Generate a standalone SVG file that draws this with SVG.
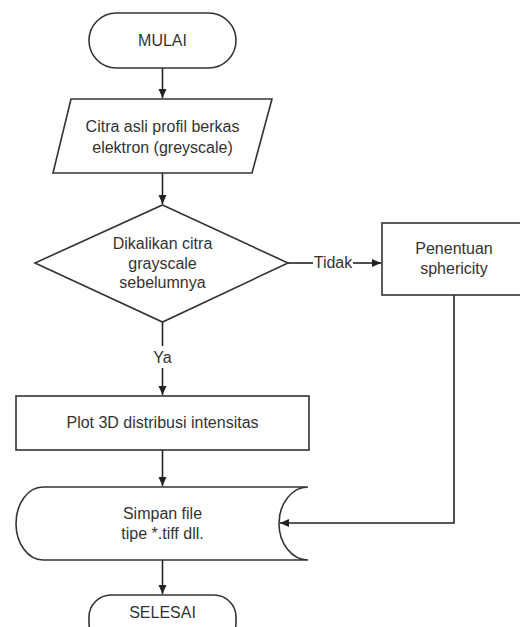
<svg xmlns="http://www.w3.org/2000/svg" width="520" height="627" viewBox="0 0 520 627">
<style>
.s{fill:#fff;stroke:#333;stroke-width:1.6}
.t{font-family:"Liberation Sans",Arial,sans-serif;font-size:16px;fill:#333;text-anchor:middle}
.c{fill:none;stroke:#222;stroke-width:1.6}
</style>
<defs>
<marker id="a" markerWidth="10" markerHeight="10" refX="9" refY="5" orient="auto" markerUnits="userSpaceOnUse">
<path d="M0,1 L9,5 L0,9 Z" fill="#222"/>
</marker>
</defs>
<rect width="520" height="627" fill="#fff"/>
<g id="connectors">
<path class="c" d="M162.5,68 V98" marker-end="url(#a)"/>
<path class="c" d="M162.5,173 V204" marker-end="url(#a)"/>
<path class="c" d="M288,263 H313"/>
<path class="c" d="M353,263 H381" marker-end="url(#a)"/>
<text class="t" x="333" y="268">Tidak</text>
<path class="c" d="M162.5,322 V346"/>
<text class="t" x="162.5" y="363">Ya</text>
<path class="c" d="M162.5,368 V395" marker-end="url(#a)"/>
<path class="c" d="M162.5,450 V486" marker-end="url(#a)"/>
<path class="c" d="M454,295 V523 H280" marker-end="url(#a)"/>
<path class="c" d="M162.5,560 V594" marker-end="url(#a)"/>
</g>
<g id="mulai">
<rect class="s" x="89" y="13" width="147" height="55" rx="27.5"/>
<text class="t" x="162.5" y="46">MULAI</text>
</g>
<g id="citra">
<polygon class="s" points="71,99 272,99 252,173 53,173"/>
<text class="t" x="162.5" y="132">Citra asli profil berkas</text>
<text class="t" x="162.5" y="153">elektron (greyscale)</text>
</g>
<g id="decision">
<polygon class="s" points="162.5,205 288,263 162.5,322 35,263"/>
<text class="t" x="162.5" y="249">Dikalikan citra</text>
<text class="t" x="162.5" y="269">grayscale</text>
<text class="t" x="162.5" y="288">sebelumnya</text>
</g>
<g id="penentuan">
<rect class="s" x="382" y="223" width="143" height="72"/>
<text class="t" x="454" y="254">Penentuan</text>
<text class="t" x="454" y="274">sphericity</text>
</g>
<g id="plot">
<rect class="s" x="16" y="396" width="293" height="54"/>
<text class="t" x="162.5" y="428">Plot 3D distribusi intensitas</text>
</g>
<g id="simpan">
<path class="s" d="M43,487 H308 A29,36.5 0 0 0 308,560 H43 A27,36.5 0 0 1 43,487 Z"/>
<text class="t" x="162.5" y="519">Simpan file</text>
<text class="t" x="162.5" y="539">tipe *.tiff dll.</text>
</g>
<g id="selesai">
<rect class="s" x="89" y="595" width="147" height="50" rx="22"/>
<text class="t" x="162.5" y="618">SELESAI</text>
</g>
</svg>
